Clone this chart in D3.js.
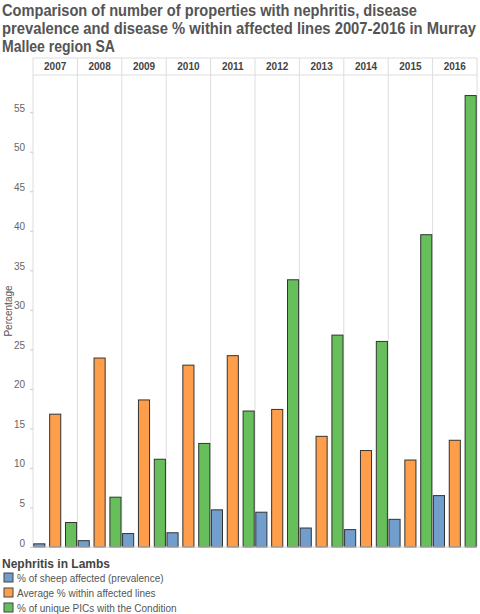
<!DOCTYPE html><html><head><meta charset="utf-8"><script src="https://cdn.jsdelivr.net/npm/d3@7"></script>
<style>body{margin:0;background:#fff}text{font-family:"Liberation Sans",Arial,sans-serif}</style></head><body><svg id="c" width="480" height="614"></svg><script>
const years=["2007","2008","2009","2010","2011","2012","2013","2014","2015","2016"];
const seriesNames=["% of sheep affected (prevalence)","Average % within affected lines","% of unique PICs with the Condition"];
const prevalence=[0.4,0.8,1.7,1.8,4.7,4.4,2.4,2.2,3.5,6.5];
const avgWithin=[16.8,23.9,18.6,23.0,24.2,17.4,14.0,12.2,11.0,13.5];
const picsPct=[3.1,6.3,11.1,13.1,17.2,33.8,26.8,26.0,39.5,57.1];
const yTicks=[0,5,10,15,20,25,30,35,40,45,50,55];
const colors=["#729ece","#ff9e4a","#67bf5c"];
const svg=d3.select("#c");
const title=["Comparison of number of properties with nephritis, disease","prevalence and disease % within affected lines 2007-2016 in Murray","Mallee region SA"];
const titleLen=[415,474,113];
svg.selectAll("text.t").data(title).join("text").attr("x",2).attr("y",(d,i)=>16+i*18)
 .attr("font-size",16).attr("font-weight","bold").attr("fill","#555")
 .attr("textLength",(d,i)=>titleLen[i]).attr("lengthAdjust","spacingAndGlyphs").text(d=>d);
const L=33,R=477,T=75,B=547,HT=58;
const x=d3.scaleBand().domain(years).range([L,R]);
const xi=d3.scaleBand().domain([0,1,2]).range([0,x.bandwidth()]).paddingInner(0.3).paddingOuter(0.05);
const y=d3.scaleLinear().domain([0,59.7]).range([B,T]);
svg.append("line").attr("x1",L).attr("x2",R).attr("y1",T).attr("y2",T).attr("stroke","#ddd");
svg.append("line").attr("x1",L).attr("x2",R).attr("y1",HT).attr("y2",HT).attr("stroke","#ddd");
years.forEach(yr=>svg.append("line").attr("x1",x(yr)).attr("x2",x(yr)).attr("y1",HT).attr("y2",B).attr("stroke","#ddd"));
svg.append("line").attr("x1",R).attr("x2",R).attr("y1",HT).attr("y2",B).attr("stroke","#ddd");
svg.selectAll("text.h").data(years).join("text").attr("x",d=>x(d)+x.bandwidth()/2).attr("y",70).attr("text-anchor","middle")
 .attr("font-size",10).attr("font-weight","bold").attr("fill","#444").text(d=>d);
const ax=svg.append("g").attr("transform",`translate(${L},0)`).call(d3.axisLeft(y).tickValues(yTicks).tickSize(3).tickPadding(5));
ax.select(".domain").remove();
ax.selectAll("line").attr("stroke","#ccc");
ax.selectAll("text").attr("font-size",10).attr("fill","#666").attr("font-family","'Liberation Sans',Arial,sans-serif").attr("dy","-0.1em");
svg.append("text").attr("transform","translate(12,311) rotate(-90)").attr("text-anchor","middle").attr("font-size",10).attr("fill","#555").text("Percentage");
const series=[prevalence,avgWithin,picsPct];
series.forEach((vals,s)=>{
 svg.selectAll(null).data(vals).join("rect")
  .attr("x",(d,i)=>x(years[i])+xi(s)).attr("width",xi.bandwidth())
  .attr("y",d=>y(d)).attr("height",d=>B-y(d))
  .attr("fill",colors[s]).attr("stroke","#333").attr("stroke-width",1);
});
svg.append("line").attr("x1",L).attr("x2",R).attr("y1",B).attr("y2",B).attr("stroke","#ccc");
svg.append("text").attr("x",2).attr("y",568).attr("font-size",12).attr("font-weight","bold").attr("fill","#444").text("Nephritis in Lambs");
seriesNames.forEach((n,i)=>{
 const yy=573+i*15;
 svg.append("rect").attr("x",4).attr("y",yy).attr("width",9).attr("height",9).attr("fill",colors[i]).attr("stroke","#444");
 svg.append("text").attr("x",17).attr("y",yy+9).attr("font-size",10).attr("fill","#555").text(n);
});
</script></body></html>
